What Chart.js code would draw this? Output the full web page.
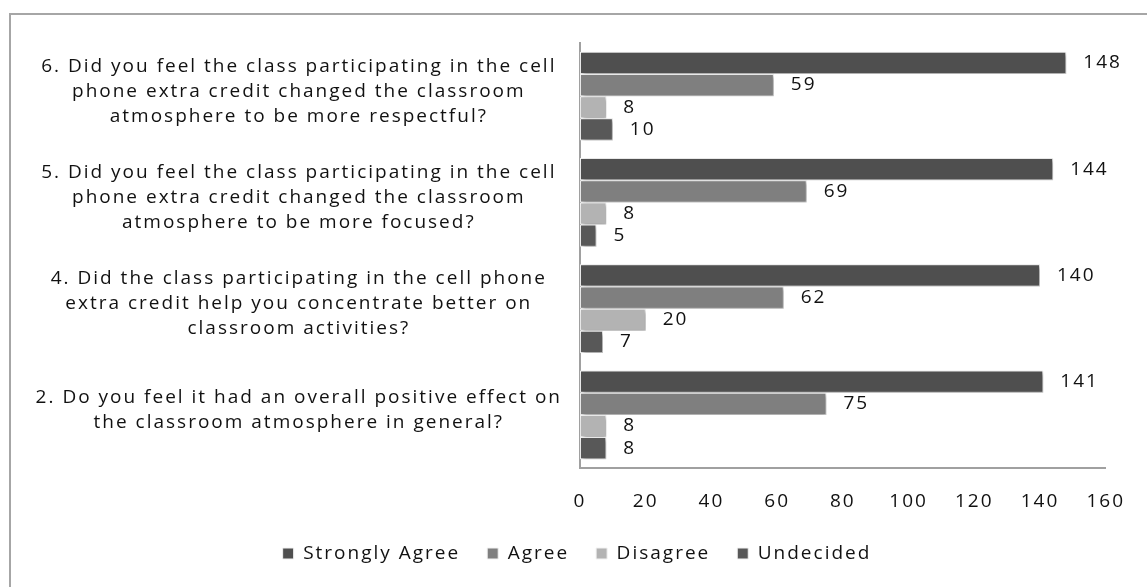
<!DOCTYPE html>
<html><head><meta charset="utf-8">
<script src="https://cdn.jsdelivr.net/npm/chart.js@4/dist/chart.umd.min.js"></script>
<style>html,body{margin:0;padding:0;background:#fff;}canvas{display:block}</style>
</head><body>
<canvas id="c" width="1147" height="587" style="width:1147px;height:587px"></canvas>
<script>
const categories = [
  ["6. Did you feel the class participating in the cell", "phone extra credit changed the classroom", "atmosphere to be more respectful?"],
  ["5. Did you feel the class participating in the cell", "phone extra credit changed the classroom", "atmosphere to be more focused?"],
  ["4. Did the class participating in the cell phone", "extra credit help you concentrate better on", "classroom activities?"],
  ["2. Do you feel it had an overall positive effect on", "the classroom atmosphere in general?"]
];
const seriesNames = ["Strongly Agree", "Agree", "Disagree", "Undecided"];
const stronglyAgree = [148, 144, 140, 141];
const agree = [59, 69, 62, 75];
const disagree = [8, 8, 20, 8];
const undecided = [10, 5, 7, 8];
const xTickValues = [0, 20, 40, 60, 80, 100, 120, 140, 160];

const seriesColors = ["#4f4f4f", "#7f7f7f", "#b3b3b3", "#585858"];
const FONT = "'Open Sans', 'DejaVu Sans', sans-serif";
const SPACING = '2px';

const spacingPlugin = {
  id: 'spacing',
  beforeUpdate(chart) { chart.ctx.letterSpacing = SPACING; },
  afterLayout(chart) {
    if (chart.legend) { chart.legend.left += 22; chart.legend.right += 22; }
  },
  beforeDraw(chart) {
    const ctx = chart.ctx;
    ctx.letterSpacing = SPACING;
    ctx.save();
    ctx.strokeStyle = '#a6a6a6';
    ctx.lineWidth = 2;
    ctx.strokeRect(10, 14, 1200, 700);
    ctx.restore();
  },
  beforeDatasetsDraw(chart) {
    const ctx = chart.ctx;
    ctx.save();
    ctx.shadowColor = 'rgba(0,0,0,0.35)';
    ctx.shadowBlur = 4;
    ctx.shadowOffsetX = 2;
    ctx.shadowOffsetY = 2;
  },
  afterDatasetsDraw(chart) {
    const ctx = chart.ctx;
    ctx.restore();
    ctx.save();
    ctx.font = "19px " + FONT;
    ctx.fillStyle = '#111';
    ctx.textAlign = 'left';
    ctx.textBaseline = 'middle';
    chart.data.datasets.forEach((ds, i) => {
      chart.getDatasetMeta(i).data.forEach((bar, j) => {
        ctx.fillText(String(ds.data[j]), bar.x + 17, bar.y);
      });
    });
    ctx.restore();
  }
};

const seriesData = [stronglyAgree, agree, disagree, undecided];

new Chart(document.getElementById('c'), {
  type: 'bar',
  data: {
    labels: categories,
    datasets: seriesNames.map((name, i) => ({
      label: name,
      data: seriesData[i],
      backgroundColor: seriesColors[i],
      borderColor: '#f2f2f2',
      borderWidth: 1,
      borderSkipped: false,
      categoryPercentage: 0.835,
      barPercentage: 1.0
    }))
  },
  options: {
    indexAxis: 'y',
    responsive: false,
    animation: false,
    events: [],
    layout: { padding: { left: 0, top: 33, right: 37, bottom: 14 } },
    scales: {
      x: {
        min: 0, max: 160,
        afterBuildTicks(s) { s.ticks = xTickValues.map(v => ({ value: v })); },
        grid: { display: false, drawTicks: false },
        border: { display: true, color: '#a0a0a0', width: 2 },
        ticks: { padding: 22, color: '#111', font: { family: FONT, size: 19 } },
        afterFit(s) { s.height = 49; }
      },
      y: {
        grid: { display: false, drawTicks: false },
        border: { display: true, color: '#a0a0a0', width: 2 },
        ticks: { crossAlign: 'center', padding: 18, labelOffset: -5, color: '#111', font: { family: FONT, size: 19, lineHeight: 1.316 } },
        afterFit(s) { s.width = 580; }
      }
    },
    plugins: {
      legend: {
        position: 'bottom',
        labels: { boxWidth: 11, boxHeight: 11, padding: 27, color: '#111', font: { family: FONT, size: 19 } }
      },
      tooltip: { enabled: false }
    }
  },
  plugins: [spacingPlugin]
});
</script>
</body></html>
